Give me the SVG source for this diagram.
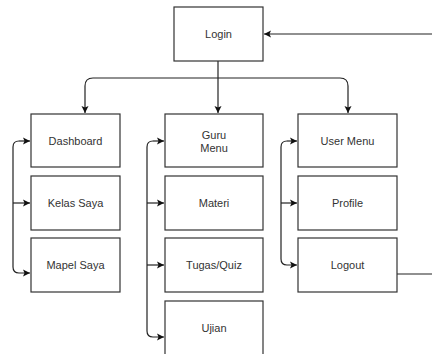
<svg xmlns="http://www.w3.org/2000/svg" width="432" height="354" viewBox="0 0 432 354">
<defs>
<marker id="ah" markerWidth="8" markerHeight="8" refX="7" refY="4" orient="auto" markerUnits="userSpaceOnUse">
<path d="M0,0.5 L7,4 L0,7.5 L1.5,4 Z" fill="#111"/>
</marker>
<style>
.box{fill:#fff;stroke:#333;stroke-width:1.2}
.t{font-family:"Liberation Sans",Arial,sans-serif;font-size:11px;fill:#333;text-anchor:middle;dominant-baseline:central}
.c{fill:none;stroke:#222;stroke-width:1.2}
</style>
</defs>
<rect width="432" height="354" fill="#fff"/>
<g id="connectors">
<path class="c" d="M432,34 H264" marker-end="url(#ah)"/>
<path class="c" d="M218,61 V113" marker-end="url(#ah)"/>
<path class="c" d="M93,78 H340 Q348,78 348,86 V113" marker-end="url(#ah)"/>
<path class="c" d="M93,78 Q85,78 85,86 V113" marker-end="url(#ah)"/>
<path class="c" d="M397,274 H432"/>
<path class="c" d="M19,141 Q13,141 13,147 V267 Q13,273 19,273 H30" marker-end="url(#ah)"/>
<path class="c" d="M19,141 H30" marker-end="url(#ah)"/>
<path class="c" d="M13,203 H30" marker-end="url(#ah)"/>
<path class="c" d="M153,141 Q147,141 147,147 V331 Q147,337 153,337 H164" marker-end="url(#ah)"/>
<path class="c" d="M153,141 H164" marker-end="url(#ah)"/>
<path class="c" d="M147,203 H164" marker-end="url(#ah)"/>
<path class="c" d="M147,265 H164" marker-end="url(#ah)"/>
<path class="c" d="M287,141 Q281,141 281,147 V259 Q281,265 287,265 H297" marker-end="url(#ah)"/>
<path class="c" d="M287,141 H297" marker-end="url(#ah)"/>
<path class="c" d="M281,203 H297" marker-end="url(#ah)"/>
</g>
<g id="login"><rect class="box" x="174" y="7" width="89" height="54"/><text class="t" x="218.5" y="34">Login</text></g>
<g id="dashboard"><rect class="box" x="31" y="114" width="89" height="53"/><text class="t" x="75.5" y="141">Dashboard</text></g>
<g id="kelas-saya"><rect class="box" x="31" y="176" width="89" height="54"/><text class="t" x="75.5" y="203">Kelas Saya</text></g>
<g id="mapel-saya"><rect class="box" x="31" y="238" width="89" height="54"/><text class="t" x="75.5" y="265">Mapel Saya</text></g>
<g id="guru-menu"><rect class="box" x="165" y="114" width="98" height="53"/><text class="t" x="214" y="134.5">Guru</text><text class="t" x="214" y="148">Menu</text></g>
<g id="materi"><rect class="box" x="165" y="176" width="98" height="54"/><text class="t" x="214" y="203">Materi</text></g>
<g id="tugas-quiz"><rect class="box" x="165" y="238" width="98" height="54"/><text class="t" x="214" y="265">Tugas/Quiz</text></g>
<g id="ujian"><rect class="box" x="165" y="301" width="98" height="60"/><text class="t" x="214" y="328">Ujian</text></g>
<g id="user-menu"><rect class="box" x="298" y="114" width="99" height="53"/><text class="t" x="347.5" y="141">User Menu</text></g>
<g id="profile"><rect class="box" x="298" y="176" width="99" height="54"/><text class="t" x="347.5" y="203">Profile</text></g>
<g id="logout"><rect class="box" x="298" y="238" width="99" height="54"/><text class="t" x="347.5" y="265">Logout</text></g>
</svg>
